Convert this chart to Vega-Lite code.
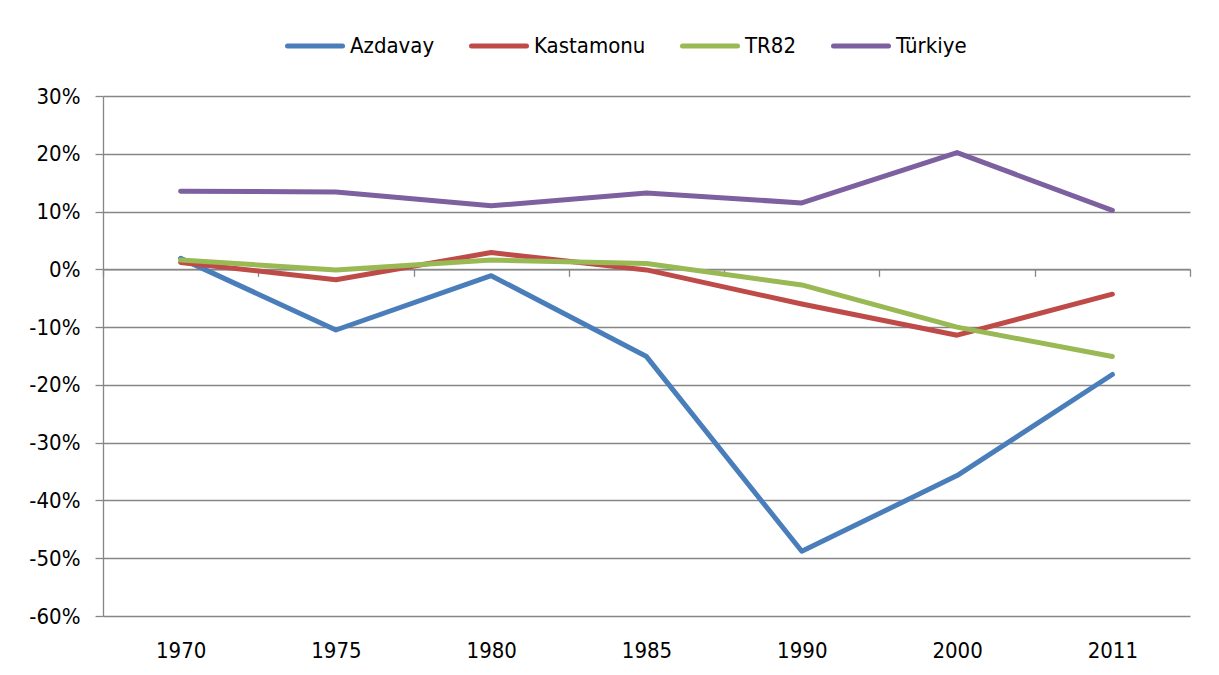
{
  "$schema": "https://vega.github.io/schema/vega-lite/v6.json",
  "width": 1087,
  "height": 520,
  "autosize": {"type": "none"},
  "padding": {"left": 103, "top": 96, "right": 29, "bottom": 59},
  "background": "white",
  "config": {"view": {"stroke": null}, "font": "DejaVu Sans Condensed"},
  "data": {
    "values": [
      {"year": "1970", "series": "Azdavay", "value": 0.019},
      {"year": "1975", "series": "Azdavay", "value": -0.105},
      {"year": "1980", "series": "Azdavay", "value": -0.011},
      {"year": "1985", "series": "Azdavay", "value": -0.151},
      {"year": "1990", "series": "Azdavay", "value": -0.488},
      {"year": "2000", "series": "Azdavay", "value": -0.357},
      {"year": "2011", "series": "Azdavay", "value": -0.182},
      {"year": "1970", "series": "Kastamonu", "value": 0.012},
      {"year": "1975", "series": "Kastamonu", "value": -0.018},
      {"year": "1980", "series": "Kastamonu", "value": 0.029},
      {"year": "1985", "series": "Kastamonu", "value": -0.001},
      {"year": "1990", "series": "Kastamonu", "value": -0.060},
      {"year": "2000", "series": "Kastamonu", "value": -0.114},
      {"year": "2011", "series": "Kastamonu", "value": -0.043},
      {"year": "1970", "series": "TR82", "value": 0.016},
      {"year": "1975", "series": "TR82", "value": -0.001},
      {"year": "1980", "series": "TR82", "value": 0.016},
      {"year": "1985", "series": "TR82", "value": 0.010},
      {"year": "1990", "series": "TR82", "value": -0.027},
      {"year": "2000", "series": "TR82", "value": -0.100},
      {"year": "2011", "series": "TR82", "value": -0.151},
      {"year": "1970", "series": "Türkiye", "value": 0.135},
      {"year": "1975", "series": "Türkiye", "value": 0.134},
      {"year": "1980", "series": "Türkiye", "value": 0.110},
      {"year": "1985", "series": "Türkiye", "value": 0.132},
      {"year": "1990", "series": "Türkiye", "value": 0.115},
      {"year": "2000", "series": "Türkiye", "value": 0.202},
      {"year": "2011", "series": "Türkiye", "value": 0.102}
    ]
  },
  "mark": {"type": "line", "strokeWidth": 5, "strokeCap": "round", "strokeJoin": "round"},
  "encoding": {
    "x": {
      "field": "year",
      "type": "ordinal",
      "bandPosition": 0.5,
      "scale": {"type": "band", "paddingInner": 0, "paddingOuter": 0},
      "axis": {
        "title": null,
        "orient": "bottom",
        "labelAngle": 0,
        "offset": -346.67,
        "grid": false,
        "domainColor": "#868686",
        "domainWidth": 1.3,
        "tickColor": "#868686",
        "tickWidth": 1.3,
        "tickSize": 7,
        "tickBand": "extent",
        "labelPadding": 364,
        "labelFont": "DejaVu Sans Condensed",
        "labelFontSize": 22,
        "labelFontWeight": "normal",
        "labelColor": "#000000"
      }
    },
    "y": {
      "field": "value",
      "type": "quantitative",
      "scale": {"domain": [-0.6, 0.3], "nice": false, "zero": false},
      "axis": {
        "title": null,
        "values": [-0.6, -0.5, -0.4, -0.3, -0.2, -0.1, 0, 0.1, 0.2, 0.3],
        "labelExpr": "(datum.value < -0.0001 ? '-' : '') + format(abs(datum.value), '.0%')",
        "grid": true,
        "gridColor": "#868686",
        "gridWidth": 1.3,
        "domainColor": "#868686",
        "domainWidth": 1.3,
        "tickColor": "#868686",
        "tickWidth": 1.3,
        "tickSize": 8,
        "labelPadding": 15,
        "labelFont": "DejaVu Sans Condensed",
        "labelFontSize": 22,
        "labelColor": "#000000"
      }
    },
    "color": {
      "field": "series",
      "type": "nominal",
      "scale": {
        "domain": ["Azdavay", "Kastamonu", "TR82", "Türkiye"],
        "range": ["#4A7EBB", "#BE4B48", "#98B954", "#7D60A0"]
      },
      "legend": {
        "title": null,
        "orient": "none",
        "direction": "horizontal",
        "legendX": 182,
        "legendY": -80,
        "symbolType": "stroke",
        "symbolStrokeWidth": 5,
        "symbolSize": 3025,
        "labelFont": "DejaVu Sans Condensed",
        "labelFontSize": 22,
        "labelColor": "#000000",
        "labelOffset": 5,
        "columnPadding": 26,
        "encode": {"symbols": {"update": {"strokeCap": {"value": "round"}}}}
      }
    }
  }
}
